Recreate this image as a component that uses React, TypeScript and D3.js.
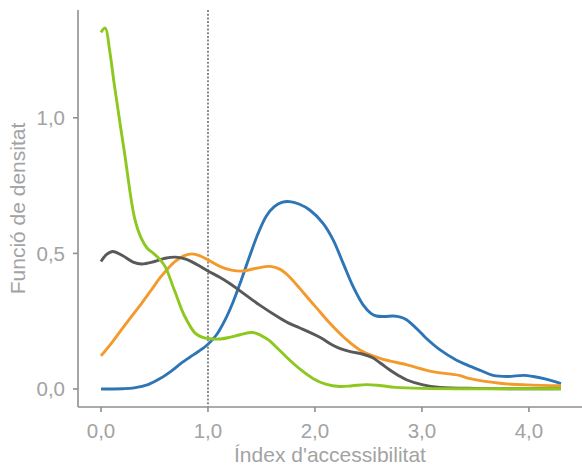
import React from "react";
import * as d3 from "d3";

const xTicks = [0, 1, 2, 3, 4];
const xTickLabels = ["0,0", "1,0", "2,0", "3,0", "4,0"];
const yTicks = [0, 0.5, 1.0];
const yTickLabels = ["0,0", "0,5", "1,0"];
const xTitle = "Índex d'accessibilitat";
const yTitle = "Funció de densitat";
const refLine = 1;

const greenX = [0, 0.04, 0.08, 0.127, 0.22, 0.314, 0.377, 0.43, 0.49, 0.55, 0.6, 0.69, 0.78, 0.88, 0.95, 1.0, 1.1, 1.2, 1.3, 1.42, 1.55, 1.65, 1.73, 1.87, 1.98, 2.1, 2.23, 2.35, 2.48, 2.6, 2.75, 3.0, 3.5, 4.3];
const greenY = [1.315, 1.331, 1.25, 1.115, 0.87, 0.63, 0.555, 0.52, 0.5, 0.478, 0.451, 0.36, 0.27, 0.206, 0.19, 0.186, 0.184, 0.19, 0.2, 0.208, 0.185, 0.15, 0.119, 0.07, 0.039, 0.018, 0.009, 0.012, 0.016, 0.013, 0.006, 0.002, 0.001, 0.001];

const greyX = [0, 0.05, 0.11, 0.2, 0.3, 0.38, 0.5, 0.6, 0.7, 0.8, 0.9, 1.0, 1.11, 1.2, 1.3, 1.48, 1.67, 1.77, 1.86, 2.05, 2.15, 2.23, 2.33, 2.45, 2.54, 2.62, 2.7, 2.78, 2.86, 3.01, 3.17, 3.5, 4.3];
const greyY = [0.47, 0.495, 0.507, 0.492, 0.468, 0.461, 0.47, 0.482, 0.486, 0.478, 0.458, 0.435, 0.412, 0.39, 0.362, 0.31, 0.262, 0.24, 0.225, 0.19, 0.165, 0.15, 0.138, 0.128, 0.115, 0.093, 0.07, 0.05, 0.033, 0.015, 0.006, 0.002, 0.001];

const orangeX = [0, 0.1, 0.19, 0.28, 0.38, 0.47, 0.56, 0.69, 0.78, 0.85, 0.92, 1.0, 1.11, 1.22, 1.33, 1.45, 1.58, 1.68, 1.76, 1.86, 1.95, 2.05, 2.14, 2.28, 2.42, 2.61, 2.86, 3.1, 3.35, 3.45, 3.73, 3.98, 4.3];
const orangeY = [0.122, 0.17, 0.218, 0.265, 0.316, 0.365, 0.414, 0.47, 0.492, 0.498, 0.492, 0.476, 0.452, 0.438, 0.435, 0.445, 0.452, 0.44, 0.414, 0.37, 0.328, 0.283, 0.242, 0.187, 0.144, 0.113, 0.089, 0.064, 0.05, 0.038, 0.021, 0.015, 0.012];

const blueX = [0, 0.2, 0.31, 0.44, 0.56, 0.66, 0.75, 0.83, 0.91, 1.0, 1.08, 1.16, 1.234, 1.31, 1.39, 1.47, 1.546, 1.62, 1.69, 1.764, 1.85, 1.951, 2.076, 2.17, 2.263, 2.356, 2.45, 2.52, 2.575, 2.65, 2.73, 2.8, 2.856, 2.98, 3.04, 3.17, 3.32, 3.42, 3.55, 3.666, 3.8, 3.95, 4.04, 4.15, 4.3];
const blueY = [0, 0.001, 0.004, 0.016, 0.04, 0.067, 0.095, 0.117, 0.138, 0.165, 0.2, 0.255, 0.32, 0.4, 0.49, 0.575, 0.638, 0.672, 0.688, 0.691, 0.682, 0.66, 0.611, 0.55, 0.464, 0.378, 0.31, 0.28, 0.269, 0.267, 0.269, 0.265, 0.255, 0.211, 0.187, 0.144, 0.107, 0.089, 0.068, 0.05, 0.046, 0.05, 0.046, 0.037, 0.02];

const seriesList = [
  { name: "blue", xs: blueX, ys: blueY, color: "#2e75b6" },
  { name: "orange", xs: orangeX, ys: orangeY, color: "#f39a2d" },
  { name: "grey", xs: greyX, ys: greyY, color: "#595959" },
  { name: "green", xs: greenX, ys: greenY, color: "#8cc81e" },
];

const W = 582;
const H = 467;
const left = 78;
const right = 582;
const top = 10;
const bottom = 407;

export default function App() {
  const x = d3.scaleLinear().domain([-0.215, 4.515]).range([left, right + 2]);
  const y = d3.scaleLinear().domain([-0.0665, 1.3975]).range([bottom, top]);
  const line = d3
    .line<[number, number]>()
    .x((d) => x(d[0]))
    .y((d) => y(d[1]))
    .curve(d3.curveCatmullRom.alpha(0.5));
  const font = "'Liberation Sans', Arial, sans-serif";
  const textColor = "#a3a3a3";
  const axisColor = "#8f8f8f";
  return (
    <svg width={W} height={H} style={{ position: "absolute", left: 0, top: 0, background: "#fff" }} fontFamily={font}>
      <line x1={x(refLine)} x2={x(refLine)} y1={top} y2={bottom} stroke="#8a8a8a" strokeWidth={2} strokeDasharray="2 1.7" />
      {seriesList.map((s) => (
        <path
          key={s.name}
          d={line(s.xs.map((v, i) => [v, s.ys[i]] as [number, number])) || ""}
          fill="none"
          stroke={s.color}
          strokeWidth={2.9}
          strokeLinejoin="round"
          strokeLinecap="butt"
        />
      ))}
      <line x1={left} x2={left} y1={top} y2={bottom} stroke={axisColor} strokeWidth={1.6} />
      <line x1={left} x2={W} y1={bottom} y2={bottom} stroke={axisColor} strokeWidth={1.6} />
      {yTicks.map((t, i) => (
        <g key={"y" + i}>
          <line x1={left - 5} x2={left} y1={y(t)} y2={y(t)} stroke={axisColor} strokeWidth={1.6} />
          <text x={left - 13} y={y(t)} dy="0.36em" textAnchor="end" fontSize={20.5} fill={textColor}>
            {yTickLabels[i]}
          </text>
        </g>
      ))}
      {xTicks.map((t, i) => (
        <g key={"x" + i}>
          <line x1={x(t)} x2={x(t)} y1={bottom} y2={bottom + 5} stroke={axisColor} strokeWidth={1.6} />
          <text x={x(t)} y={437.5} textAnchor="middle" fontSize={20.5} fill={textColor}>
            {xTickLabels[i]}
          </text>
        </g>
      ))}
      <text x={(left + right) / 2} y={461.5} textAnchor="middle" fontSize={21} fill={textColor}>
        {xTitle}
      </text>
      <text
        transform={`translate(25,${(top + bottom) / 2}) rotate(-90)`}
        textAnchor="middle"
        fontSize={21}
        fill={textColor}
      >
        {yTitle}
      </text>
    </svg>
  );
}
